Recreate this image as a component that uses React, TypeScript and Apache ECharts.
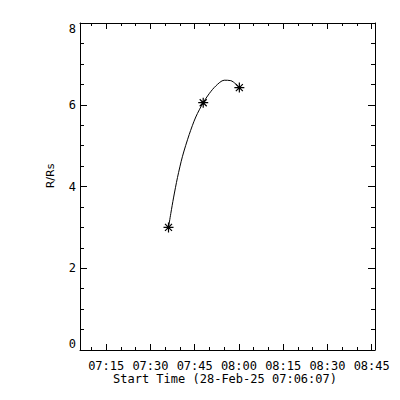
import React, { useEffect, useRef } from "react";
import * as echarts from "echarts";

// Start time of the x axis: 28-Feb-25 07:06:07
const startClock = "07:06:07";
const spanMinutes = 100;

// Measured height-time points (R/Rs)
const pointTimes = ["07:36:07", "07:47:53", "08:00:08"];
const pointValues = [3.0, 6.05, 6.42];

// Fitted curve
const curveTimes = [
  "07:36:07", "07:36:54", "07:37:49", "07:39:10", "07:40:52", "07:43:08", "07:45:22",
  "07:47:53", "07:49:54", "07:52:09", "07:55:00", "07:57:14", "08:00:08",
];
const curveValues = [3.0, 3.34, 3.72, 4.22, 4.74, 5.27, 5.7, 6.05, 6.27, 6.46, 6.6, 6.59, 6.42];

// Tick labels (clock)
const majorTicks = ["07:15", "07:30", "07:45", "08:00", "08:15", "08:30", "08:45"];
const minorTicks = [
  "07:10", "07:15", "07:20", "07:25", "07:30", "07:35", "07:40", "07:45", "07:50", "07:55",
  "08:00", "08:05", "08:10", "08:15", "08:20", "08:25", "08:30", "08:35", "08:40", "08:45",
];

const xTitle = "Start Time (28-Feb-25 07:06:07)";
const yTitle = "R/Rs";

const toMin = (s: string) => {
  const p = s.split(":").map(Number);
  return p[0] * 60 + p[1] + (p[2] || 0) / 60;
};
const pad = (n: number) => (n < 10 ? "0" + n : "" + n);
const fmt = (v: number) => {
  const m = Math.round(v);
  return pad(Math.floor(m / 60)) + ":" + pad(m % 60);
};

const MONO = "DejaVu Sans Mono";

export default function App() {
  const ref = useRef<HTMLDivElement>(null);
  useEffect(() => {
    if (!ref.current) return;
    const chart = echarts.init(ref.current, undefined, { renderer: "svg" });
    const xMin = toMin(startClock);
    const xMax = xMin + spanMinutes;
    const majors = majorTicks.map(toMin);
    const minors = minorTicks.map(toMin);
    const black = "#000";
    const baseX = {
      type: "value" as const,
      min: xMin,
      max: xMax,
      splitLine: { show: false },
      gridIndex: 0,
    };
    const star = "path://M5,0L5,10M0,5L10,5M1.5,1.5L8.5,8.5M1.5,8.5L8.5,1.5";
    chart.setOption({
      animation: false,
      backgroundColor: "#fff",
      grid: { left: 80, top: 23, width: 295, height: 327, containLabel: false },
      xAxis: [
        {
          ...baseX,
          position: "bottom",
          axisLine: { show: true, lineStyle: { color: black, width: 1 } },
          axisTick: { show: true, inside: true, length: 6, customValues: majors, lineStyle: { color: black } },
          axisLabel: {
            show: true,
            customValues: majors,
            formatter: (v: number) => fmt(v),
            color: black,
            fontFamily: MONO,
            fontSize: 12,
            margin: 10,
          },
        },
        {
          ...baseX,
          position: "bottom",
          axisLine: { show: false },
          axisTick: { show: true, inside: true, length: 3, customValues: minors, lineStyle: { color: black } },
          axisLabel: { show: false },
        },
        {
          ...baseX,
          position: "top",
          axisLine: { show: true, lineStyle: { color: black, width: 1 } },
          axisTick: { show: true, inside: true, length: 6, customValues: majors, lineStyle: { color: black } },
          axisLabel: { show: false },
        },
        {
          ...baseX,
          position: "top",
          axisLine: { show: false },
          axisTick: { show: true, inside: true, length: 3, customValues: minors, lineStyle: { color: black } },
          axisLabel: { show: false },
        },
      ],
      yAxis: [
        {
          type: "value",
          position: "left",
          min: 0,
          max: 8,
          interval: 2,
          splitLine: { show: false },
          axisLine: { show: true, lineStyle: { color: black, width: 1 } },
          axisTick: { show: true, inside: true, length: 7, lineStyle: { color: black } },
          minorTick: { show: true, splitNumber: 4, length: 4, lineStyle: { color: black } },
          axisLabel: {
            color: black,
            fontFamily: MONO,
            fontSize: 12,
            margin: 4,
            verticalAlignMinLabel: "bottom",
            verticalAlignMaxLabel: "top",
          },
        },
        {
          type: "value",
          position: "right",
          min: 0,
          max: 8,
          interval: 2,
          splitLine: { show: false },
          axisLine: { show: true, lineStyle: { color: black, width: 1 } },
          axisTick: { show: true, inside: true, length: 7, lineStyle: { color: black } },
          minorTick: { show: true, splitNumber: 4, length: 4, lineStyle: { color: black } },
          axisLabel: { show: false },
        },
      ],
      graphic: [
        {
          type: "text",
          x: 225,
          y: 379,
          style: {
            text: xTitle,
            fontFamily: MONO,
            fontSize: 12,
            fill: black,
            align: "center",
            verticalAlign: "middle",
          },
        },
        {
          type: "text",
          x: 50,
          y: 176,
          rotation: Math.PI / 2,
          style: {
            text: yTitle,
            fontFamily: "DejaVu Sans",
            fontSize: 11,
            fill: black,
            align: "center",
            verticalAlign: "middle",
          },
        },
      ],
      series: [
        {
          type: "line",
          xAxisIndex: 0,
          yAxisIndex: 0,
          data: curveTimes.map((t, i) => [toMin(t), curveValues[i]]),
          smooth: 0.3,
          showSymbol: false,
          symbol: "none",
          lineStyle: { color: black, width: 1 },
          silent: true,
        },
        {
          type: "scatter",
          xAxisIndex: 0,
          yAxisIndex: 0,
          data: pointTimes.map((t, i) => [toMin(t), pointValues[i]]),
          symbol: star,
          symbolSize: 10,
          itemStyle: { color: "none", borderColor: black, borderWidth: 1.2, opacity: 1 },
          silent: true,
        },
      ],
    });
    return () => chart.dispose();
  }, []);
  return (
    <div
      ref={ref}
      style={{ position: "fixed", left: 0, top: 0, width: 400, height: 400, background: "#fff" }}
    />
  );
}
